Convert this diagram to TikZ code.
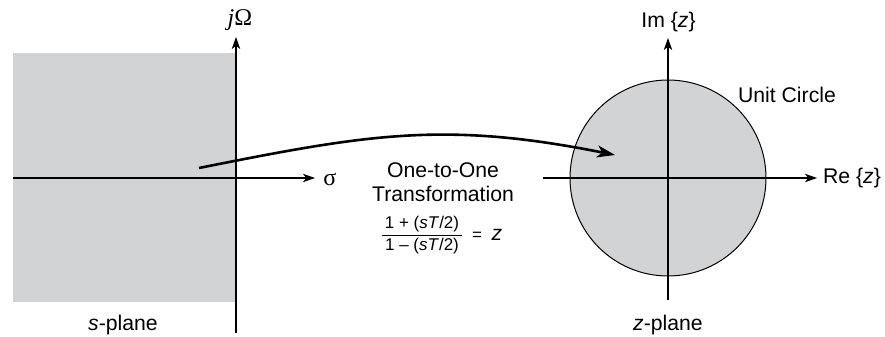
\documentclass[tikz,border=0pt]{standalone}
\usepackage{fontspec}
\setmainfont{Liberation Sans}
\newfontfamily\serifgreek{Liberation Serif}
\usetikzlibrary{arrows.meta}
\definecolor{planegray}{RGB}{209,211,213}
\begin{document}
\begin{tikzpicture}[x=0.5pt,y=-0.5pt,
  axis/.style={line width=0.6pt,-{Stealth[length=6pt,width=4.2pt,inset=1.6pt]}},
  lbl/.style={inner sep=0pt,font=\fontsize{10.6}{12.7}\selectfont},
  greek/.style={inner sep=0pt,font=\fontsize{12}{14}\serifgreek},
  small/.style={inner sep=0pt,font=\fontsize{8.5}{10}\selectfont},
  map/.style={line width=1.3pt,-{Stealth[length=9pt,width=6pt,inset=2.5pt]}}]
\useasboundingbox (0,0) rectangle (885,337);
% s-plane
\fill[planegray] (13,53) rectangle (236,302);
\coordinate (sL) at (13,178);
\coordinate (sR) at (315,178);
\coordinate (sB) at (236,333);
\coordinate (sT) at (236,37);
\draw[axis] (sL) -- (sR);
\draw[axis] (sB) -- (sT);
\node[greek] (jw) at (240,20) {\itshape j\upshape Ω};
\node[greek,anchor=west] (sigma) at (323,179) {σ};
\node[lbl] (splane) at (123,325) {\textit{s}-plane};
% z-plane
\node[circle,draw,line width=0.5pt,fill=planegray,inner sep=0pt,minimum size=98pt] (uc) at (668,178) {};
\coordinate (zL) at (543,178);
\coordinate (zR) at (817,178);
\coordinate (zB) at (668,300);
\coordinate (zT) at (668,38);
\draw[axis] (zL) -- (zR);
\draw[axis] (zB) -- (zT);
\node[lbl] (im) at (668.5,22) {Im \{\textit{z}\}};
\node[lbl] (re) at (852,178) {Re \{\textit{z}\}};
\node[lbl] (ucl) at (787,95) {Unit Circle};
\node[lbl] (zplane) at (668,325) {\textit{z}-plane};
% mapping
\node[lbl] (t1) at (443,170) {One-to-One};
\node[lbl] (t2) at (443,194) {Transformation};
\node[small] (num) at (422,224) {1 + (\textit{sT}/2)};
\node[small] (den) at (422,246) {1 \textendash\ (\textit{sT}/2)};
\draw[line width=0.5pt] (382,235) -- (462,235);
\node[small] (eq) at (477,236) {=};
\node[lbl] (zz) at (497,235) {\textit{z}};
\coordinate (cs) at (199,168);
\coordinate (cz) at (615,155);
\draw[map] (cs) .. controls (369,134) and (445,121) .. (cz);
\end{tikzpicture}
\end{document}
